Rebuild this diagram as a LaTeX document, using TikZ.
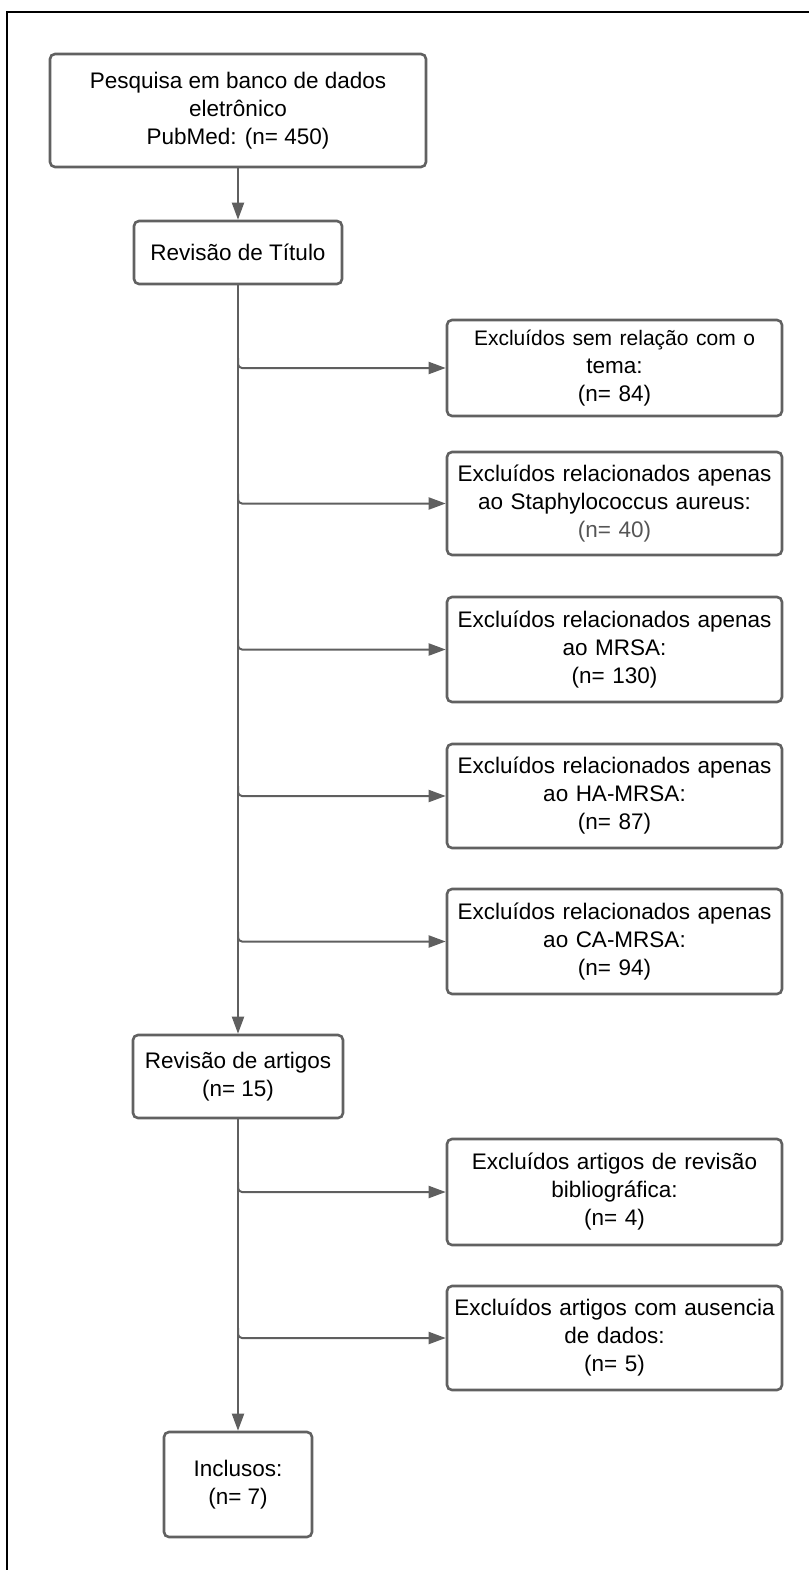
\documentclass[tikz,border=0pt]{standalone}
\usepackage{fontspec}
\setmainfont{Liberation Sans}
\usetikzlibrary{arrows.meta}
\definecolor{linegray}{HTML}{5F5F5F}
\definecolor{boxgray}{HTML}{616161}
\definecolor{ngray}{HTML}{555555}
\tikzset{
  flowbox/.style={draw=boxgray, line width=2.6pt, rounded corners=5pt, fill=white,
    align=center, inner sep=0pt, font=\fontsize{22.5}{28}\selectfont, text=black},
  rightbox/.style={flowbox, minimum width=335pt, text width=330pt},
  conn/.style={draw=linegray, line width=2pt, rounded corners=4pt,
    -{Triangle[length=17pt,width=12pt]}},
}
\begin{document}
\begin{tikzpicture}[x=1pt,y=-1pt]
\useasboundingbox (0,0) rectangle (809,1570);
% outer frame (only left and top edges visible)
\draw[line width=2.2pt, black] (7,1570) -- (7,12) -- (809,12);

\node[flowbox, minimum width=376pt, minimum height=113pt] (A) at (238,110.5)
  {Pesquisa em banco de dados\\eletrônico\\PubMed: (n= 450)};
\node[flowbox, minimum width=208pt, minimum height=63pt] (B) at (238,252.5)
  {Revisão de Título};

\node[rightbox, minimum height=96pt] (R1) at (614.5,368)
  {{\fontsize{21}{28}\selectfont Excluídos sem relação com o}\\tema:\\(n= 84)};
\node[rightbox, minimum height=103pt] (R2) at (614.5,503.5)
  {Excluídos relacionados apenas\\ao Staphylococcus aureus:\\\textcolor{ngray}{(n= 40)}};
\node[rightbox, minimum height=105pt] (R3) at (614.5,649.5)
  {Excluídos relacionados apenas\\ao MRSA:\\(n= 130)};
\node[rightbox, minimum height=104pt] (R4) at (614.5,796)
  {Excluídos relacionados apenas\\ao HA-MRSA:\\(n= 87)};
\node[rightbox, minimum height=105pt] (R5) at (614.5,941.5)
  {Excluídos relacionados apenas\\ao CA-MRSA:\\(n= 94)};

\node[flowbox, minimum width=210pt, minimum height=83pt] (C) at (238,1076.5)
  {Revisão de artigos\\(n= 15)};

\node[rightbox, minimum height=106pt] (R6) at (614.5,1192)
  {Excluídos artigos de revisão\\bibliográfica:\\(n= 4)};
\node[rightbox, minimum height=104pt] (R7) at (614.5,1338)
  {Excluídos artigos com ausencia\\de dados:\\(n= 5)};

\node[flowbox, minimum width=148pt, minimum height=105pt] (I) at (238,1484.5)
  {Inclusos:\\(n= 7)};

% main flow
\draw[conn] (A.south) -- (B.north);
\draw[conn] (B.south) -- (C.north);
\draw[conn] (C.south) -- (I.north);

% branches
\foreach \r/\s in {R1/B, R2/B, R3/B, R4/B, R5/B, R6/C, R7/C} {
  \coordinate (j\r) at (\s.south |- \r.west);
  \draw[conn] ([yshift=10pt]j\r) -- (j\r) -- (\r.west);
}
\end{tikzpicture}
\end{document}
